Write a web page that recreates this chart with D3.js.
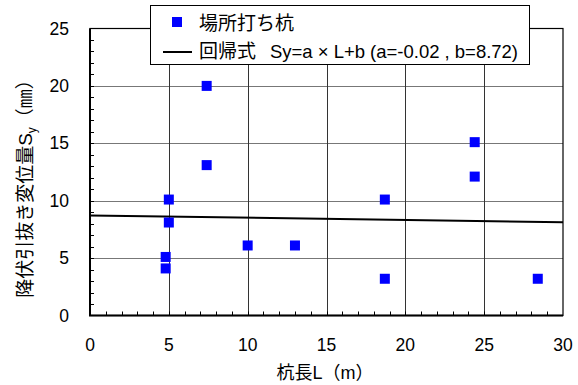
<!DOCTYPE html>
<html>
<head>
<meta charset="utf-8">
<script src="https://cdn.jsdelivr.net/npm/d3@7"></script>
<style>
  html, body { margin: 0; padding: 0; background: #fff; }
  svg { display: block; font-family: "Liberation Sans", Arial, "Noto Sans CJK JP", sans-serif; }
</style>
</head>
<body>
<script>
// pile length L (m) and yield pull-out displacement Sy (mm)
var pileLength = [7.4, 7.4, 5.0, 5.0, 4.8, 4.8, 10.0, 13.0, 18.7, 18.7, 24.4, 24.4, 28.4];
var yieldDisp  = [20.0, 13.1, 10.1, 8.1, 5.1, 4.1, 6.1, 6.1, 10.1, 3.2, 15.1, 12.1, 3.2];
var regA = -0.02, regB = 8.72;
var xTicks = [0, 5, 10, 15, 20, 25, 30];
var yTicks = [0, 5, 10, 15, 20, 25];

var width = 578, height = 385;
var margin = { left: 90, top: 28.5, right: 15, bottom: 69.5 };
var pw = width - margin.left - margin.right;
var ph = height - margin.top - margin.bottom;

var svg = d3.select("body").append("svg")
    .attr("width", width)
    .attr("height", height);

var x = d3.scaleLinear().domain([0, 30]).range([margin.left, margin.left + pw]);
var y = d3.scaleLinear().domain([0, 25]).range([margin.top + ph, margin.top]);

// grid
svg.append("g").selectAll("line").data(yTicks.slice(1, -1)).enter().append("line")
    .attr("x1", x(0)).attr("x2", x(30))
    .attr("y1", d => Math.round(y(d)) + 0.5).attr("y2", d => Math.round(y(d)) + 0.5)
    .attr("stroke", "#777").attr("stroke-width", 1);
svg.append("g").selectAll("line").data(xTicks.slice(1, -1)).enter().append("line")
    .attr("y1", y(0)).attr("y2", y(25))
    .attr("x1", d => Math.round(x(d)) + 0.5).attr("x2", d => Math.round(x(d)) + 0.5)
    .attr("stroke", "#333").attr("stroke-width", 1);

// minor ticks (inward)
svg.append("g").selectAll("line").data(d3.range(1, 30)).enter().append("line")
    .attr("x1", d => Math.round(x(d)) + 0.5).attr("x2", d => Math.round(x(d)) + 0.5)
    .attr("y1", y(0)).attr("y2", y(0) - 4)
    .attr("stroke", "#000");
svg.append("g").selectAll("line").data(d3.range(1, 25)).enter().append("line")
    .attr("y1", d => Math.round(y(d)) + 0.5).attr("y2", d => Math.round(y(d)) + 0.5)
    .attr("x1", x(0)).attr("x2", x(0) + 4)
    .attr("stroke", "#000");

// frame
svg.append("rect")
    .attr("x", x(0)).attr("y", y(25))
    .attr("width", pw).attr("height", ph)
    .attr("fill", "none").attr("stroke", "#000").attr("stroke-width", 1.2);
svg.append("path")
    .attr("d", "M" + x(0) + "," + y(25) + "V" + y(0) + "H" + x(30))
    .attr("fill", "none").attr("stroke", "#000").attr("stroke-width", 2);

// regression line
svg.append("line")
    .attr("x1", x(0)).attr("y1", y(regB))
    .attr("x2", x(30)).attr("y2", y(regA * 30 + regB))
    .attr("stroke", "#000").attr("stroke-width", 2);

// points
var pts = pileLength.map((v, i) => [v, yieldDisp[i]]);
svg.append("g").selectAll("rect").data(pts).enter().append("rect")
    .attr("x", d => x(d[0]) - 5).attr("y", d => y(d[1]) - 5)
    .attr("width", 10).attr("height", 10)
    .attr("fill", "#0000ff");

// tick labels
svg.append("g").selectAll("text").data(xTicks).enter().append("text")
    .attr("x", d => x(d)).attr("y", 351)
    .attr("text-anchor", "middle").attr("font-size", 17.5).attr("fill", "#000")
    .text(d => d);
svg.append("g").selectAll("text").data(yTicks).enter().append("text")
    .attr("x", 69).attr("y", d => y(d) + 6)
    .attr("text-anchor", "end").attr("font-size", 17.5).attr("fill", "#000")
    .text(d => d);

// axis titles
svg.append("text")
    .attr("x", 325).attr("y", 379)
    .attr("text-anchor", "middle").attr("font-size", 18)
    .text("杭長L（m）");
var yl = svg.append("text")
    .attr("transform", "translate(32,184) rotate(-90)")
    .attr("text-anchor", "middle").attr("font-size", 19);
yl.append("tspan").text("降伏引抜き変位量S");
yl.append("tspan").attr("font-size", 12).attr("dy", 4).text("y");
yl.append("tspan").attr("dy", -4).text("（㎜）");

// legend
var lg = svg.append("g");
lg.append("rect")
    .attr("x", 150.5).attr("y", 5.5).attr("width", 379).attr("height", 59)
    .attr("fill", "#fff").attr("stroke", "#000").attr("stroke-width", 1);
lg.append("rect")
    .attr("x", 172).attr("y", 17).attr("width", 10).attr("height", 10)
    .attr("fill", "#0000ff");
lg.append("text").attr("x", 199).attr("y", 30).attr("font-size", 19).text("場所打ち杭");
lg.append("line")
    .attr("x1", 163).attr("x2", 192).attr("y1", 52).attr("y2", 52)
    .attr("stroke", "#000").attr("stroke-width", 2);
lg.append("text").attr("x", 199).attr("y", 58).attr("font-size", 19).text("回帰式");
lg.append("text").attr("x", 270).attr("y", 58).attr("font-size", 18.5)
    .attr("textLength", 248).attr("lengthAdjust", "spacing")
    .text("Sy=a × L+b (a=-0.02 , b=8.72)");
</script>
</body>
</html>
